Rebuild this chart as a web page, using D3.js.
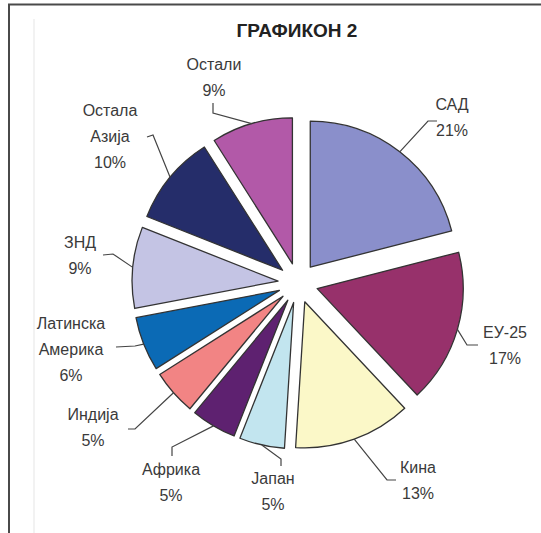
<!DOCTYPE html>
<html>
<head>
<meta charset="utf-8">
<script src="https://cdn.jsdelivr.net/npm/d3@7/dist/d3.min.js"></script>
<style>
  body { margin: 0; background: #fff; }
  text { font-family: "Liberation Sans", Arial, sans-serif; }
</style>
</head>
<body>
<script>
// Data
const regions = ["САД", "ЕУ-25", "Кина", "Јапан", "Африка", "Индија", "Латинска Америка", "ЗНД", "Остала Азија", "Остали"];
const shares = [21, 17, 13, 5, 5, 5, 6, 9, 10, 9];
const labelLines = [
  ["САД", "21%"], ["ЕУ-25", "17%"], ["Кина", "13%"], ["Јапан", "5%"], ["Африка", "5%"],
  ["Индија", "5%"], ["Латинска", "Америка", "6%"], ["ЗНД", "9%"], ["Остала", "Азија", "10%"], ["Остали", "9%"]
];
const colors = ["#8a8fcb", "#97316b", "#fbf8c8", "#c2e5ef", "#5e2170", "#f28484", "#0b6ab5", "#c4c4e4", "#252d6a", "#b259a8"];

// label layout: text anchor (first line centre) and leader elbow points
const labelPos = [
  { x: 452, y: 104, elbow: [[437, 121], [428, 121]] },
  { x: 505, y: 332, elbow: [[478, 345], [467, 345]] },
  { x: 418, y: 467, elbow: [[396, 480], [387, 480]] },
  { x: 273, y: 478, elbow: [[281, 466], [281, 459]] },
  { x: 171, y: 469, elbow: [[172, 456], [172, 447]] },
  { x: 93,  y: 414, elbow: [[128, 429], [135, 429]] },
  { x: 71,  y: 323, elbow: [[116, 347], [135, 346]] },
  { x: 80,  y: 242, elbow: [[103, 255], [113, 254]] },
  { x: 110, y: 110, elbow: [[147, 137], [153, 135]] },
  { x: 214, y: 64,  elbow: [[213, 103], [213, 113]] }
];

const width = 541, height = 533;
const cx = 298, cy = 283, radius = 146, explode = 20;

const svg = d3.select("body").append("svg")
  .attr("width", width)
  .attr("height", height);

// frame
svg.append("line").attr("x1", 34).attr("x2", 34).attr("y1", 19).attr("y2", height)
  .attr("stroke", "#f2f2f2").attr("stroke-width", 2);
svg.append("path")
  .attr("d", `M9,${height} V4.5 H${width}`)
  .attr("fill", "none").attr("stroke", "#4a4a4a").attr("stroke-width", 2);

svg.append("text")
  .attr("x", 297).attr("y", 37)
  .attr("text-anchor", "middle")
  .attr("font-size", 19).attr("font-weight", "bold")
  .attr("fill", "#222")
  .text("ГРАФИКОН 2");

const pie = d3.pie().sort(null).value(d => d);
const arcs = pie(shares);
const arc = d3.arc().innerRadius(0).outerRadius(radius);

const mid = d => (d.startAngle + d.endAngle) / 2;
const offset = d => [Math.sin(mid(d)) * explode, -Math.cos(mid(d)) * explode];

const g = svg.append("g").attr("transform", `translate(${cx},${cy})`);

g.selectAll("path")
  .data(arcs)
  .enter()
  .append("path")
  .attr("d", arc)
  .attr("transform", d => `translate(${offset(d)})`)
  .attr("fill", (d, i) => colors[i])
  .attr("stroke", "#333")
  .attr("stroke-width", 1.3)
  .attr("stroke-linejoin", "round");

// leaders
const line = d3.line();
svg.selectAll("path.leader")
  .data(arcs)
  .enter()
  .append("path")
  .attr("class", "leader")
  .attr("d", (d, i) => {
    const o = offset(d);
    const a = mid(d);
    const edge = [cx + o[0] + Math.sin(a) * radius, cy + o[1] - Math.cos(a) * radius];
    return line([...labelPos[i].elbow, edge]);
  })
  .attr("fill", "none")
  .attr("stroke", "#444")
  .attr("stroke-width", 1.2);

// labels
const labels = svg.selectAll("text.lbl")
  .data(labelLines)
  .enter()
  .append("text")
  .attr("class", "lbl")
  .attr("text-anchor", "middle")
  .attr("font-size", 16)
  .attr("fill", "#3a3a3a");

labels.each(function(lines, i) {
  const t = d3.select(this);
  lines.forEach((s, k) => {
    t.append("tspan")
      .attr("x", labelPos[i].x)
      .attr("y", labelPos[i].y + 6 + k * 26)
      .text(s);
  });
});
</script>
</body>
</html>
